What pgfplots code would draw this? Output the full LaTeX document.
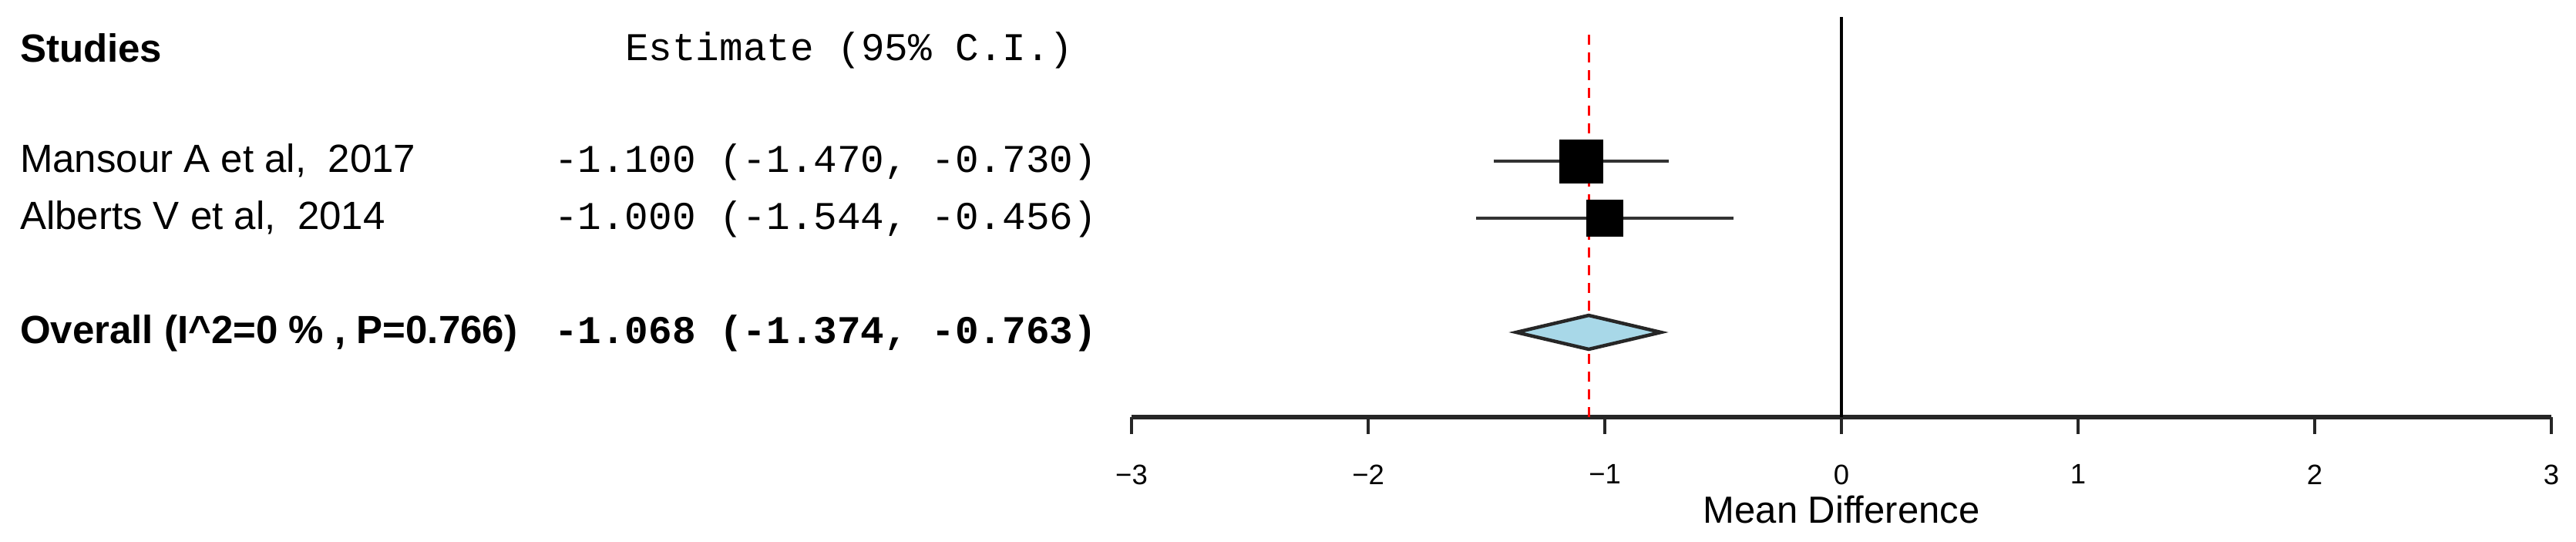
\documentclass[border=0pt]{standalone}
\usepackage{fontspec}
\setmainfont{Liberation Sans}
\setmonofont{Liberation Mono}
\usepackage{pgfplots}
\pgfplotsset{compat=1.18}
\definecolor{diamondfill}{HTML}{A8D8E8}
\newcommand\fs{\fontsize{10.2}{12}\selectfont}

\begin{document}
\begin{tikzpicture}
\begin{axis}[
    scale only axis,
    width=368.4pt, height=103.8pt,
    xmin=-3, xmax=3,
    ymin=-1.486, ymax=5.527,
    axis x line=bottom,
    axis y line=none,
    x axis line style={-, line width=1.1pt, black!85},
    xtick={-3,-2,-1,0,1,2,3},
    xticklabels={−3,−2,−1,0,1,2,3},
    tick align=outside,
    major tick length=4.4pt,
    x tick style={line width=0.9pt, black!85},
    xticklabel style={font=\fontsize{7.3}{8}\selectfont},
    xticklabel shift=4.4pt,
    clip=false,
]
    % invisible frame = page size
    \path (axis cs:-7.782,5.824) rectangle (axis cs:3.104,-3.662);

    % null line and pooled estimate
    \addplot[black, line width=0.9pt] coordinates {(0,-1.486) (0,5.527)};
    \addplot[red, line width=0.65pt, dash pattern=on 2.6pt off 2pt] coordinates {(-1.068,-1.486) (-1.068,5.35)};

    % CIs
    \addplot[black!80, line width=0.95pt] coordinates {(-1.470,3) (-0.730,3)};
    \addplot[black!80, line width=0.95pt] coordinates {(-1.544,2) (-0.456,2)};

    % point estimates
    \addplot[only marks, mark=square*, mark size=5.5pt, black] coordinates {(-1.100,3)};
    \addplot[only marks, mark=square*, mark size=4.6pt, black] coordinates {(-1.000,2)};

    % overall diamond
    \addplot[draw=black!85, line width=0.9pt, fill=diamondfill] coordinates
        {(-1.374,0) (-1.068,0.297) (-0.763,0) (-1.068,-0.297)} -- cycle;

    % text columns
    \node[anchor=base west, inner sep=0, font=\fs\bfseries] at (axis cs:-7.70,4.73) {Studies};
    \node[anchor=base west, inner sep=0, font=\fs\ttfamily] at (axis cs:-5.143,4.76) {Estimate (95\% C.I.)};

    \node[anchor=base west, inner sep=0, font=\fs] at (axis cs:-7.70,2.80) {Mansour A et al,\ \ 2017};
    \node[anchor=base west, inner sep=0, font=\fs\ttfamily] at (axis cs:-5.443,2.80) {-1.100 (-1.470, -0.730)};

    \node[anchor=base west, inner sep=0, font=\fs] at (axis cs:-7.70,1.80) {Alberts V et al,\ \ 2014};
    \node[anchor=base west, inner sep=0, font=\fs\ttfamily] at (axis cs:-5.443,1.80) {-1.000 (-1.544, -0.456)};

    \node[anchor=base west, inner sep=0, font=\fs\bfseries] at (axis cs:-7.70,-0.20) {Overall (I\textasciicircum 2=0 \% , P=0.766)};
    \node[anchor=base west, inner sep=0, font=\fs\ttfamily\bfseries] at (axis cs:-5.443,-0.20) {-1.068 (-1.374, -0.763)};

    \node[anchor=base, inner sep=0, font=\fontsize{9.8}{11}\selectfont] at (axis cs:0,-3.338) {Mean Difference};
\end{axis}
\end{tikzpicture}
\end{document}
